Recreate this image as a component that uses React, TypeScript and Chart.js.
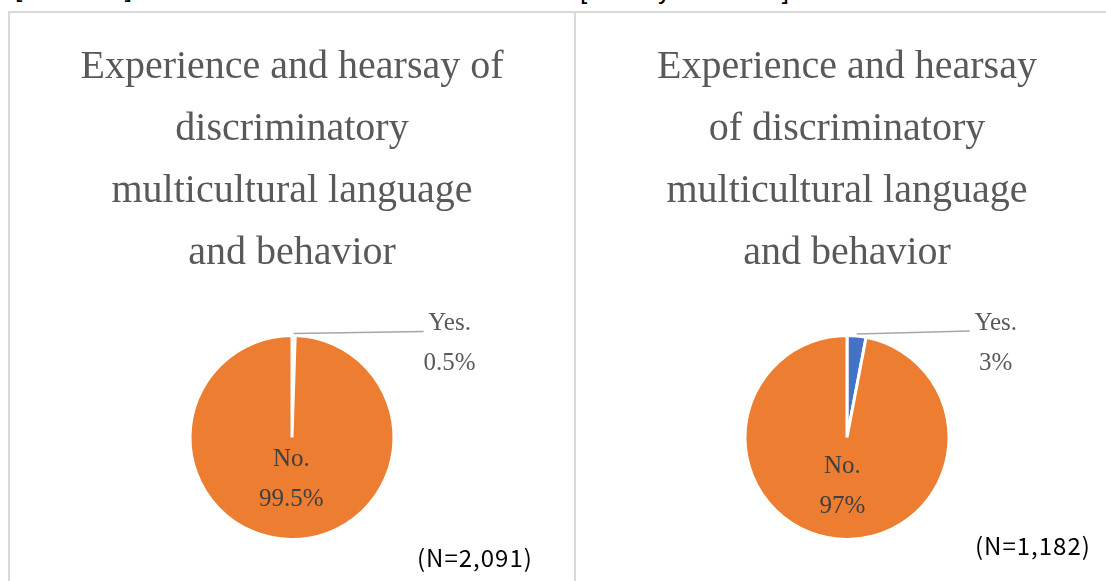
import React, { useEffect, useRef } from "react";
import { Chart, registerables } from "chart.js";

Chart.register(...registerables);

// ---- data ----
const categories = ["Yes.", "No."];
const studentValues = [0.5, 99.5];
const staffValues = [3, 97];
const studentTitle = [
  "Experience and hearsay of",
  "discriminatory",
  "multicultural language",
  "and behavior",
];
const staffTitle = [
  "Experience and hearsay",
  "of discriminatory",
  "multicultural language",
  "and behavior",
];
const panelHeaders = ["[Students]", "[Faculty and Staff]"];
const sampleSizes = ["(N=2,091)", "(N=1,182)"];
const sliceColors = ["#4472C4", "#ED7D31"];

const SERIF = '"Liberation Serif", "Times New Roman", serif';

const labelPlugin = {
  id: "pieLabels",
  afterDatasetsDraw(chart: any, _args: any, opts: any) {
    const ctx = chart.ctx;
    const meta = chart.getDatasetMeta(0);
    const ds = chart.data.datasets[0];
    meta.data.forEach((arc: any, i: number) => {
      const { x, y, startAngle, endAngle, outerRadius } = arc.getProps(
        ["x", "y", "startAngle", "endAngle", "outerRadius"],
        true
      );
      const mid = (startAngle + endAngle) / 2;
      const label = chart.data.labels[i];
      const value = ds.data[i] + "%";
      ctx.save();
      ctx.font = "25px " + SERIF;
      ctx.textAlign = "center";
      ctx.textBaseline = "middle";
      if (ds.data[i] < 10) {
        const ox = x + (outerRadius + 2) * Math.cos(mid);
        const oy = y + (outerRadius + 2) * Math.sin(mid);
        const lx = ox + opts.outsideDx;
        const ly = oy + opts.outsideDy;
        ctx.strokeStyle = "#a6a6a6";
        ctx.lineWidth = 1.5;
        ctx.beginPath();
        ctx.moveTo(ox, oy);
        ctx.lineTo(lx - 26, ly - 12);
        ctx.stroke();
        ctx.fillStyle = "#595959";
        ctx.fillText(label, lx, ly - 20);
        ctx.fillText(value, lx, ly + 20);
      } else {
        const d = outerRadius * opts.insideFactor;
        const cx = x + d * Math.cos(mid);
        const cy = y + d * Math.sin(mid);
        ctx.fillStyle = "#404040";
        ctx.fillText(label, cx, cy - 20);
        ctx.fillText(value, cx, cy + 20);
      }
      ctx.restore();
    });
  },
};

function PieChart(props: {
  title: string[];
  values: number[];
  width: number;
  height: number;
  insideFactor: number;
  outsideDx: number;
  outsideDy: number;
}) {
  const ref = useRef<HTMLCanvasElement>(null);
  useEffect(() => {
    if (!ref.current) return;
    const chart = new Chart(ref.current, {
      type: "pie",
      data: {
        labels: categories,
        datasets: [
          {
            data: props.values,
            backgroundColor: sliceColors,
            borderColor: "#ffffff",
            borderWidth: 3,
          },
        ],
      },
      options: {
        responsive: false,
        animation: false,
        layout: { padding: { bottom: 40 } },
        plugins: {
          legend: { display: false },
          tooltip: { enabled: false },
          title: {
            display: true,
            text: props.title,
            color: "#595959",
            font: { family: SERIF, size: 40, weight: "normal", lineHeight: 1.55 },
            padding: { top: 23, bottom: 50 },
          },
          pieLabels: {
            insideFactor: props.insideFactor,
            outsideDx: props.outsideDx,
            outsideDy: props.outsideDy,
          },
        } as any,
      },
      plugins: [labelPlugin],
    });
    return () => chart.destroy();
  }, []);
  return <canvas ref={ref} width={props.width} height={props.height} />;
}

export default function App() {
  const headerStyle: React.CSSProperties = {
    position: "absolute",
    font: '26px "Liberation Sans", Arial, sans-serif',
    lineHeight: "26px",
    color: "#000",
    whiteSpace: "nowrap",
  };
  const nStyle: React.CSSProperties = {
    position: "absolute",
    font: '24px "Noto Sans CJK JP", sans-serif',
    letterSpacing: "1px",
    lineHeight: "30px",
    color: "#000",
    whiteSpace: "nowrap",
  };
  return (
    <div
      style={{
        position: "fixed",
        left: 0,
        top: 0,
        width: 1106,
        height: 581,
        overflow: "hidden",
        background: "#fff",
      }}
    >
      <div style={{ ...headerStyle, left: 15, top: -25 }}>{panelHeaders[0]}</div>
      <div style={{ ...headerStyle, left: 580, top: -23 }}>{panelHeaders[1]}</div>
      <div
        style={{
          position: "absolute",
          left: 8,
          top: 11,
          width: 568,
          height: 600,
          boxSizing: "border-box",
          border: "2px solid #d9d9d9",
        }}
      />
      <div
        style={{
          position: "absolute",
          left: 574,
          top: 11,
          width: 600,
          height: 600,
          boxSizing: "border-box",
          border: "2px solid #d9d9d9",
        }}
      />
      <div style={{ position: "absolute", left: 10, top: 13 }}>
        <PieChart
          title={studentTitle}
          values={studentValues}
          width={564}
          height={568}
          insideFactor={0.41}
          outsideDx={156}
          outsideDy={10}
        />
      </div>
      <div style={{ position: "absolute", left: 576, top: 13 }}>
        <PieChart
          title={staffTitle}
          values={staffValues}
          width={542}
          height={568}
          insideFactor={0.48}
          outsideDx={139}
          outsideDy={9}
        />
      </div>
      <div style={{ ...nStyle, left: 417, top: 542 }}>{sampleSizes[0]}</div>
      <div style={{ ...nStyle, left: 975, top: 530 }}>{sampleSizes[1]}</div>
    </div>
  );
}
